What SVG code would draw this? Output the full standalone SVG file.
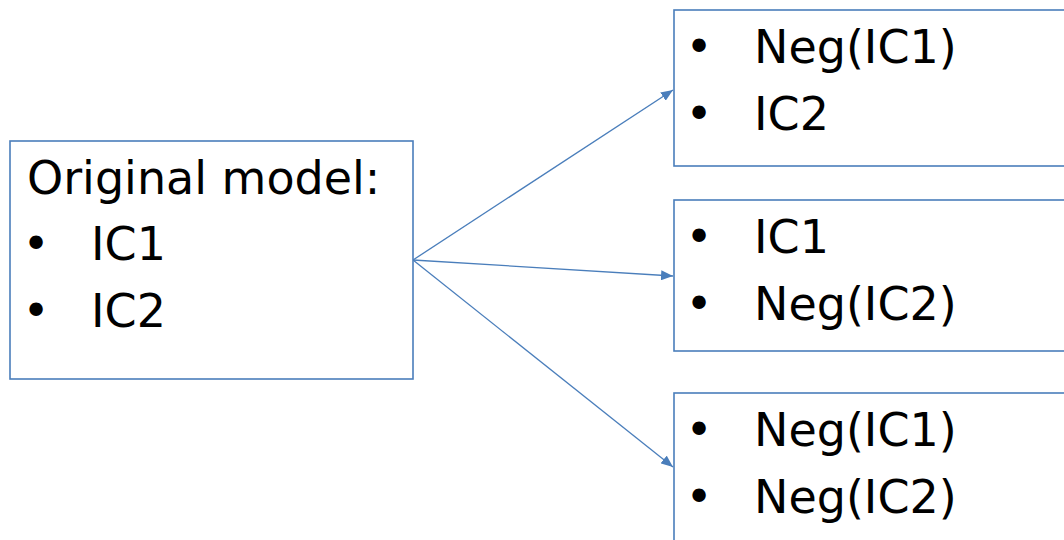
<svg xmlns="http://www.w3.org/2000/svg" width="1064" height="540" viewBox="0 0 1064 540">
<style>
.box{fill:#fff;stroke:#4a7ebb;stroke-width:1.6}
.t{font-family:"DejaVu Sans",sans-serif;font-size:46px;fill:#000}
.b{font-family:"DejaVu Sans",sans-serif;font-size:46px;fill:#000;text-anchor:middle}
.c{stroke:#4a7ebb;stroke-width:1.3;fill:none}
</style>
<defs>
<marker id="ah" viewBox="0 0 12 10" refX="12" refY="5" markerWidth="12" markerHeight="10" markerUnits="userSpaceOnUse" orient="auto">
<path d="M0,0 L12,5 L0,10 Z" fill="#4a7ebb"/>
</marker>
</defs>
<g id="connectors">
<line class="c" x1="413" y1="260" x2="673" y2="90" marker-end="url(#ah)"/>
<line class="c" x1="413" y1="260" x2="673" y2="276" marker-end="url(#ah)"/>
<line class="c" x1="413" y1="260" x2="673" y2="467" marker-end="url(#ah)"/>
</g>
<g id="original">
<rect class="box" x="10" y="141" width="403" height="238"/>
<text class="t" x="27" y="194">Original model:</text>
<text class="b" x="36" y="260">•</text>
<text class="t" x="91" y="260">IC1</text>
<text class="b" x="36" y="327">•</text>
<text class="t" x="91" y="327">IC2</text>
</g>
<g id="variant1">
<rect class="box" x="674" y="10" width="420" height="156"/>
<text class="b" x="699" y="63">•</text>
<text class="t" x="754" y="63">Neg(IC1)</text>
<text class="b" x="699" y="130">•</text>
<text class="t" x="754" y="130">IC2</text>
</g>
<g id="variant2">
<rect class="box" x="674" y="200" width="420" height="151"/>
<text class="b" x="699" y="253">•</text>
<text class="t" x="754" y="253">IC1</text>
<text class="b" x="699" y="320">•</text>
<text class="t" x="754" y="320">Neg(IC2)</text>
</g>
<g id="variant3">
<rect class="box" x="674" y="393" width="420" height="170"/>
<text class="b" x="699" y="446">•</text>
<text class="t" x="754" y="446">Neg(IC1)</text>
<text class="b" x="699" y="513">•</text>
<text class="t" x="754" y="513">Neg(IC2)</text>
</g>
</svg>
